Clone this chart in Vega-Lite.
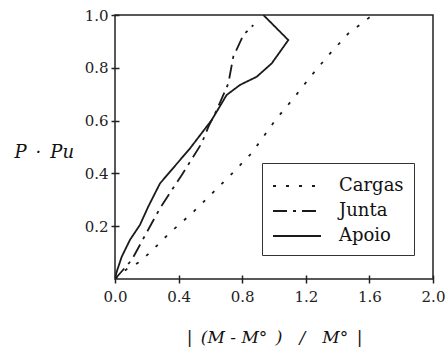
{
 "$schema": "https://vega.github.io/schema/vega-lite/v6.json",
 "width": 318,
 "height": 264,
 "autosize": {"type": "none"},
 "padding": {"left": 115, "top": 15, "right": 14, "bottom": 68},
 "background": "white",
 "config": {"view": {"stroke": "#222", "strokeWidth": 1.5}, "font": "DejaVu Serif"},
 "data": {"values": [
  {"s": "Cargas", "x": 0, "y": 0},
  {"s": "Cargas", "x": 0.073, "y": 0.037},
  {"s": "Cargas", "x": 0.147, "y": 0.062},
  {"s": "Cargas", "x": 0.22, "y": 0.1},
  {"s": "Cargas", "x": 0.346, "y": 0.176},
  {"s": "Cargas", "x": 0.482, "y": 0.248},
  {"s": "Cargas", "x": 0.607, "y": 0.322},
  {"s": "Cargas", "x": 0.734, "y": 0.398},
  {"s": "Cargas", "x": 0.86, "y": 0.477},
  {"s": "Cargas", "x": 1.01, "y": 0.603},
  {"s": "Cargas", "x": 1.121, "y": 0.683},
  {"s": "Cargas", "x": 1.237, "y": 0.772},
  {"s": "Cargas", "x": 1.352, "y": 0.854},
  {"s": "Cargas", "x": 1.468, "y": 0.93},
  {"s": "Cargas", "x": 1.62, "y": 1.0},
  {"s": "Junta", "x": 0, "y": 0},
  {"s": "Junta", "x": 0.105, "y": 0.072},
  {"s": "Junta", "x": 0.162, "y": 0.135},
  {"s": "Junta", "x": 0.231, "y": 0.211},
  {"s": "Junta", "x": 0.283, "y": 0.268},
  {"s": "Junta", "x": 0.357, "y": 0.337},
  {"s": "Junta", "x": 0.42, "y": 0.394},
  {"s": "Junta", "x": 0.492, "y": 0.463},
  {"s": "Junta", "x": 0.545, "y": 0.514},
  {"s": "Junta", "x": 0.59, "y": 0.58},
  {"s": "Junta", "x": 0.64, "y": 0.64},
  {"s": "Junta", "x": 0.713, "y": 0.741},
  {"s": "Junta", "x": 0.744, "y": 0.842},
  {"s": "Junta", "x": 0.807, "y": 0.924},
  {"s": "Junta", "x": 0.87, "y": 0.962},
  {"s": "Apoio", "x": 0, "y": 0},
  {"s": "Apoio", "x": 0.011, "y": 0.028},
  {"s": "Apoio", "x": 0.042, "y": 0.084},
  {"s": "Apoio", "x": 0.094, "y": 0.148},
  {"s": "Apoio", "x": 0.157, "y": 0.205},
  {"s": "Apoio", "x": 0.209, "y": 0.274},
  {"s": "Apoio", "x": 0.283, "y": 0.362},
  {"s": "Apoio", "x": 0.472, "y": 0.495},
  {"s": "Apoio", "x": 0.608, "y": 0.602},
  {"s": "Apoio", "x": 0.702, "y": 0.697},
  {"s": "Apoio", "x": 0.786, "y": 0.735},
  {"s": "Apoio", "x": 0.891, "y": 0.766},
  {"s": "Apoio", "x": 0.986, "y": 0.817},
  {"s": "Apoio", "x": 1.09, "y": 0.905},
  {"s": "Apoio", "x": 0.933, "y": 1.0}
 ]},
 "mark": {"type": "line", "strokeWidth": 1.8, "color": "#1a1a1a", "clip": true},
 "encoding": {
  "x": {"field": "x", "type": "quantitative",
   "scale": {"domain": [0, 2], "nice": false, "zero": false},
   "axis": {"values": [0, 0.4, 0.8, 1.2, 1.6, 2.0], "format": ".1f", "domain": false, "grid": false,
    "offset": -4, "tickSize": 8, "tickColor": "#222", "tickWidth": 1.5,
    "labelFont": "DejaVu Serif", "labelFontSize": 15, "labelPadding": 6, "labelColor": "#222",
    "labelFlush": false, "labelOverlap": false, "labelBound": false,
    "title": "|\u2002(M - M°\u2002)\u2002\u2002/\u2002\u2002M°\u2002|",
    "titleFont": "DejaVu Serif", "titleFontStyle": "italic", "titleFontWeight": "normal",
    "titleFontSize": 17, "titleColor": "#111", "titleX": 159, "titleY": 67, "titleAlign": "center",
    "titleBaseline": "alphabetic"}},
  "y": {"field": "y", "type": "quantitative",
   "scale": {"domain": [0, 1], "nice": false, "zero": false},
   "axis": {"values": [0.2, 0.4, 0.6, 0.8, 1.0], "format": ".1f", "domain": false, "grid": false,
    "offset": -4, "tickSize": 8, "tickColor": "#222", "tickWidth": 1.5,
    "labelFont": "DejaVu Serif", "labelFontSize": 15, "labelPadding": 3, "labelColor": "#222",
    "labelFlush": false, "labelOverlap": false, "labelBound": false,
    "title": "P\u2002·\u2002Pu", "titleAngle": 0,
    "titleFont": "DejaVu Serif", "titleFontStyle": "italic", "titleFontWeight": "normal",
    "titleFontSize": 18, "titleColor": "#111", "titleX": -105, "titleY": 142, "titleAlign": "left",
    "titleBaseline": "alphabetic"}},
  "strokeDash": {"field": "s", "type": "nominal",
   "scale": {"domain": ["Cargas", "Junta", "Apoio"], "range": [[3, 10], [14, 6, 3, 6], [1, 0]]},
   "legend": {"orient": "none", "legendX": 147, "legendY": 148, "title": null,
    "symbolType": "M-1,0H3", "symbolSize": 576, "symbolStrokeWidth": 1.8,
    "symbolStrokeColor": "#1a1a1a", "symbolFillColor": "transparent",
    "labelFont": "DejaVu Serif", "labelFontSize": 18, "labelColor": "#111",
    "labelOffset": 41, "padding": 10, "rowPadding": 3, "labelLimit": 0,
    "strokeColor": "#333", "fillColor": "white"}},
  "order": {"value": null}
 }
}
